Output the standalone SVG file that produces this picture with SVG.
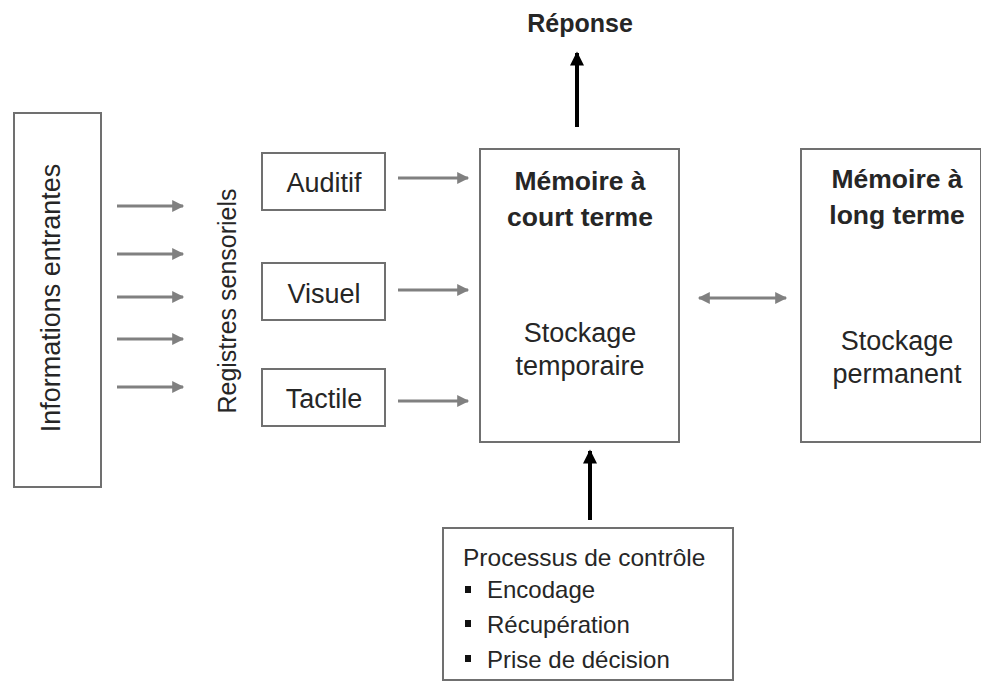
<svg xmlns="http://www.w3.org/2000/svg" width="981" height="682" viewBox="0 0 981 682">
<defs>
<style>
.box{fill:#fff;stroke:#707070;stroke-width:2}
.t{font-family:"Liberation Sans",Arial,sans-serif;fill:#262626;text-anchor:middle}
.b{font-weight:bold}
.g{stroke:#808080;stroke-width:3;fill:none}
.k{stroke:#000;stroke-width:4;fill:none}
</style>
<marker id="ag" viewBox="0 0 10 10" refX="9" refY="5" markerWidth="4.5" markerHeight="4" orient="auto-start-reverse" markerUnits="strokeWidth"><path d="M0,0 L10,5 L0,10 Z" fill="#808080"/></marker>
<marker id="ak" viewBox="0 0 10 10" refX="9" refY="5" markerWidth="4" markerHeight="3.5" orient="auto" markerUnits="strokeWidth"><path d="M0,0 L10,5 L0,10 Z" fill="#000"/></marker>
</defs>
<rect width="981" height="682" fill="#fff"/>
<g id="informations">
<rect class="box" x="14" y="113" width="87" height="374"/>
<text class="t" font-size="27" transform="translate(60,298) rotate(-90)">Informations entrantes</text>
</g>
<g id="registres">
<text class="t" font-size="25" transform="translate(236,301) rotate(-90)">Registres sensoriels</text>
</g>
<g id="auditif">
<rect class="box" x="262" y="153" width="123" height="57"/>
<text class="t" font-size="27" x="324" y="192">Auditif</text>
</g>
<g id="visuel">
<rect class="box" x="262" y="263" width="123" height="57"/>
<text class="t" font-size="27" x="324" y="303">Visuel</text>
</g>
<g id="tactile">
<rect class="box" x="262" y="369" width="123" height="57"/>
<text class="t" font-size="27" x="324" y="408">Tactile</text>
</g>
<g id="mct">
<rect class="box" x="480" y="149" width="199" height="293"/>
<text class="t b" font-size="26.5" x="580" y="190">Mémoire à</text>
<text class="t b" font-size="26.5" x="580" y="226">court terme</text>
<text class="t" font-size="27" x="580" y="342">Stockage</text>
<text class="t" font-size="27" x="580" y="375">temporaire</text>
</g>
<g id="mlt">
<rect class="box" x="801" y="149" width="180" height="293"/>
<text class="t b" font-size="26.5" x="897" y="188">Mémoire à</text>
<text class="t b" font-size="26.5" x="897" y="224">long terme</text>
<text class="t" font-size="27" x="897" y="350">Stockage</text>
<text class="t" font-size="27" x="897" y="383">permanent</text>
</g>
<g id="reponse">
<text class="t b" font-size="25" x="580" y="32">Réponse</text>
</g>
<g id="processus">
<rect class="box" x="443" y="528" width="290" height="152"/>
<text class="t" font-size="24.5" x="463" y="566" style="text-anchor:start">Processus de contrôle</text>
<rect x="465" y="586" width="6" height="7" fill="#111"/>
<rect x="465" y="620" width="6" height="7" fill="#111"/>
<rect x="465" y="655" width="6" height="7" fill="#111"/>
<text class="t" font-size="24" x="487" y="598" style="text-anchor:start">Encodage</text>
<text class="t" font-size="24" x="487" y="633" style="text-anchor:start">Récupération</text>
<text class="t" font-size="24" x="487" y="668" style="text-anchor:start">Prise de décision</text>
</g>
<g id="connectors">
<line class="g" x1="117" y1="206" x2="183" y2="206" marker-end="url(#ag)"/>
<line class="g" x1="117" y1="254" x2="183" y2="254" marker-end="url(#ag)"/>
<line class="g" x1="117" y1="297" x2="183" y2="297" marker-end="url(#ag)"/>
<line class="g" x1="117" y1="339" x2="183" y2="339" marker-end="url(#ag)"/>
<line class="g" x1="117" y1="387" x2="183" y2="387" marker-end="url(#ag)"/>
<line class="g" x1="398" y1="178" x2="468" y2="178" marker-end="url(#ag)"/>
<line class="g" x1="398" y1="290" x2="468" y2="290" marker-end="url(#ag)"/>
<line class="g" x1="398" y1="401" x2="468" y2="401" marker-end="url(#ag)"/>
<line class="g" x1="699" y1="298" x2="786" y2="298" marker-start="url(#ag)" marker-end="url(#ag)"/>
<line class="k" x1="577" y1="127" x2="577" y2="53" marker-end="url(#ak)"/>
<line class="k" x1="590" y1="520" x2="590" y2="451" marker-end="url(#ak)"/>
</g>
</svg>
